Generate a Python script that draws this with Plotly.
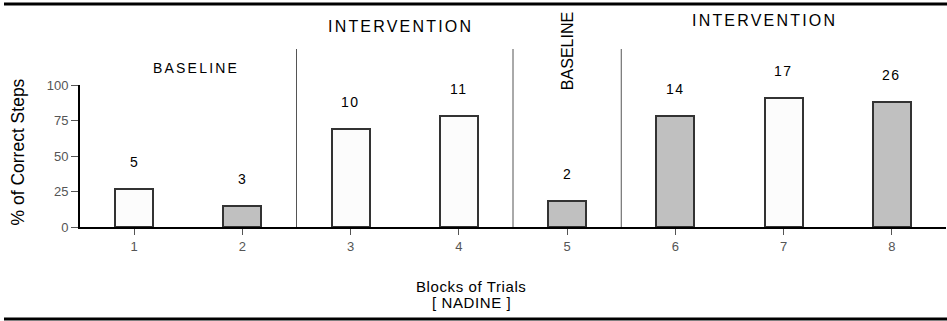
import plotly.graph_objects as go

blocks = [1, 2, 3, 4, 5, 6, 7, 8]
tick_labels = ["1", "2", "3", "4", "5", "6", "7", "8"]
pct_correct = [27, 15, 69, 78, 18, 78, 91, 88]
trial_counts = ["5", "3", "10", "11", "2", "14", "17", "26"]
bar_colors = ["#fcfcfc", "#c0c0c0", "#fcfcfc", "#fcfcfc", "#c0c0c0", "#c0c0c0", "#fcfcfc", "#c0c0c0"]
phase_breaks = [2.5, 4.5, 5.5]
phase_labels = ["BASELINE", "INTERVENTION", "BASELINE", "INTERVENTION"]
phase_x = [1.57, 3.46, 5.0, 6.82]
y_ticks = [0, 25, 50, 75, 100]

W, H = 947, 321
ML, MR, MT, MB = 80, 1, 85, 94
PW = W - ML - MR
PH = H - MT - MB

FONT = "Liberation Sans, Arial, sans-serif"

def ls(text, px):
    return f'<span style="letter-spacing:{px}px">{text}</span>'

fig = go.Figure()
fig.add_trace(go.Bar(
    x=blocks, y=pct_correct, width=0.35,
    marker=dict(color=bar_colors, line=dict(color="#333333", width=2)),
    hoverinfo="skip", showlegend=False,
))

shapes = []
for b in phase_breaks:
    shapes.append(dict(type="line", xref="x", yref="paper", x0=b, x1=b,
                       y0=0, y1=(227 - 49) / PH, line=dict(color="#555555", width=1)))
# top and bottom rules
for ypix in (4, 319):
    yp = (MT + PH - ypix) / PH
    shapes.append(dict(type="line", xref="paper", yref="paper",
                       x0=(4 - ML) / PW, x1=(W - ML) / PW, y0=yp, y1=yp,
                       line=dict(color="black", width=3)))

annotations = []
for xv, yv, t in zip(blocks, pct_correct, trial_counts):
    annotations.append(dict(x=xv, y=yv, xref="x", yref="y", text=ls(t, 1.5),
                            showarrow=False, yshift=27, yanchor="middle",
                            font=dict(family=FONT, size=14, color="black")))

phase_y_pix = [68, 26.5, 51, 20.5]
phase_sizes = [14, 16, 16, 16]
phase_angles = [0, 0, -90, 0]
for lab, xv, ypix, sz, ang in zip(phase_labels, phase_x, phase_y_pix, phase_sizes, phase_angles):
    txt = lab if ang != 0 else ls(lab, 2.2)
    annotations.append(dict(x=xv, y=(MT + PH - ypix) / PH, xref="x", yref="paper",
                            text=txt, showarrow=False, textangle=ang,
                            xanchor="center", yanchor="middle",
                            font=dict(family=FONT, size=sz, color="black")))

annotations.append(dict(x=0, xref="paper", xshift=-63, y=(227 - 152.5) / PH, yref="paper",
                        text="% of Correct Steps", textangle=-90, showarrow=False,
                        xanchor="center", yanchor="middle",
                        font=dict(family=FONT, size=17.5, color="black")))
annotations.append(dict(x=(471 - ML) / PW, xref="paper", y=(227 - 286) / PH, yref="paper",
                        text=ls("Blocks of Trials", 0.6), showarrow=False,
                        xanchor="center", yanchor="middle",
                        font=dict(family=FONT, size=15, color="black")))
annotations.append(dict(x=(471 - ML) / PW, xref="paper", y=(227 - 302) / PH, yref="paper",
                        text=ls("[ NADINE ]", 0.6), showarrow=False,
                        xanchor="center", yanchor="middle",
                        font=dict(family=FONT, size=15, color="black")))

fig.update_layout(
    width=W, height=H,
    margin=dict(l=ML, r=MR, t=MT, b=MB),
    paper_bgcolor="white", plot_bgcolor="white",
    shapes=shapes, annotations=annotations,
    bargap=0,
    xaxis=dict(range=[0.5, 8.5], tickvals=blocks, ticktext=tick_labels,
               showline=True, linecolor="black", linewidth=2,
               ticks="outside", ticklen=6, tickcolor="#555555", tickwidth=1,
               showgrid=False, zeroline=False,
               tickfont=dict(family=FONT, size=13, color="#555555")),
    yaxis=dict(range=[0, 100], tickvals=y_ticks,
               showline=True, linecolor="black", linewidth=2,
               ticks="outside", ticklen=7, tickcolor="#555555", tickwidth=1,
               showgrid=False, zeroline=False,
               tickfont=dict(family=FONT, size=13, color="#555555")),
)

fig.write_html("out.html", config={"displayModeBar": False},
               post_script="document.body.style.margin='0px';")
